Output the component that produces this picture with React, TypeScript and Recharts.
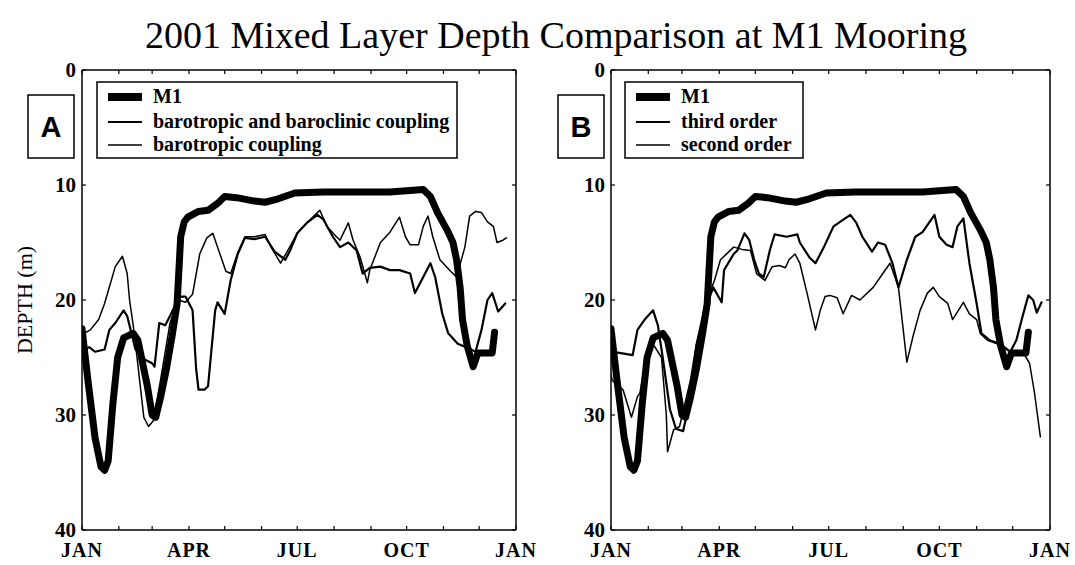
import React from 'react';
import { LineChart, Line, XAxis, YAxis } from 'recharts';

// ---------- axis ticks ----------
const monthTicks = [0, 31, 59, 90, 120, 151, 181, 212, 243, 273, 304, 334, 365];
const monthLabels: Record<number, string> = { 0: 'JAN', 90: 'APR', 181: 'JUL', 273: 'OCT', 365: 'JAN' };
const depthTicks = [0, 10, 20, 30, 40];

// ---------- series names ----------
const title = '2001 Mixed Layer Depth Comparison at M1 Mooring';
const namesA = ['M1', 'barotropic and baroclinic coupling', 'barotropic coupling'];
const namesB = ['M1', 'third order', 'second order'];
const panelLetters = ['A', 'B'];

// ---------- M1 observed (day of year, depth m) ----------
const m1Day = [0, 5, 11, 16, 19, 22, 26, 30, 35, 43, 47, 51, 55, 59, 62, 66, 71, 76, 80, 83, 86, 89, 98, 106, 114, 120, 130, 145, 154, 165, 179, 203, 230, 259, 287, 293, 299, 307, 312, 315, 318, 320, 324, 329, 333, 338, 345, 347];
const m1Depth = [22.5, 27, 32, 34.5, 34.8, 34, 29, 25, 23.3, 22.9, 23.5, 25.5, 27.5, 30, 30.2, 28.5, 26, 23, 20.3, 14.5, 13.2, 12.8, 12.3, 12.2, 11.6, 11, 11.1, 11.4, 11.5, 11.2, 10.7, 10.6, 10.6, 10.6, 10.4, 11, 12.4, 13.9, 15, 16.5, 18.9, 21.7, 24, 25.8, 24.6, 24.6, 24.6, 22.8];

// ---------- Panel A: barotropic and baroclinic coupling ----------
const bbDay = [0, 6, 11, 19, 23, 28, 35, 38, 45, 53, 59, 61, 65, 70, 74, 82, 87, 93, 96, 98, 103, 106, 112, 114, 120, 125, 131, 137, 145, 154, 162, 171, 175, 181, 189, 198, 203, 211, 217, 224, 231, 236, 242, 251, 259, 267, 276, 280, 287, 293, 297, 303, 308, 316, 325, 331, 336, 341, 345, 350, 356];
const bbDepth = [24.5, 24.1, 24.5, 24.3, 22.6, 22, 20.9, 21.4, 24.3, 25.2, 25.5, 25.8, 22, 22.2, 21.4, 19.7, 19.7, 20.9, 26, 27.8, 27.8, 27.5, 20.9, 20.2, 21.2, 18.3, 16, 14.6, 14.7, 14.5, 15.8, 16.5, 15.7, 14.2, 13.3, 12.6, 13, 14.5, 15.4, 15, 15.7, 17.7, 17.2, 17.1, 17.4, 17.4, 17.7, 19.4, 18, 16.8, 18, 21.2, 22.9, 23.8, 24.2, 24.5, 22.6, 20, 19.4, 21, 20.3];

// ---------- Panel A: barotropic coupling ----------
const btDay = [0, 7, 14, 19, 28, 34, 38, 40, 44, 52, 56, 60, 66, 74, 81, 87, 93, 99, 105, 110, 116, 121, 125, 131, 137, 145, 154, 159, 167, 173, 181, 189, 198, 200, 206, 214, 217, 224, 228, 234, 240, 242, 251, 259, 267, 272, 276, 283, 287, 291, 295, 301, 310, 315, 322, 326, 331, 336, 341, 346, 349, 354, 357];
const btDepth = [23, 22.6, 21.7, 20.3, 17.1, 16.2, 17.7, 20, 22.9, 30.2, 31, 30.5, 27, 22, 20, 20.2, 19.5, 16, 14.6, 14.2, 16, 17.5, 17.7, 15.9, 14.5, 14.5, 14.3, 15.4, 16.8, 15.7, 14.2, 13.3, 12.4, 12.2, 13.6, 14.5, 14.8, 13.3, 14.8, 16.3, 18.5, 17.4, 15, 14.1, 12.8, 14.5, 15.2, 15.2, 13.6, 12.7, 14.5, 16.5, 17.5, 18, 15.4, 12.7, 12.3, 12.4, 13.2, 13.6, 15, 14.8, 14.6];

// ---------- Panel B: third order ----------
const thirdDay = [0, 7, 18, 22, 28, 35, 39, 43, 49, 54, 60, 66, 71, 80, 85, 92, 94, 102, 105, 111, 115, 119, 123, 127, 132, 136, 146, 155, 157, 165, 170, 177, 185, 199, 204, 209, 217, 222, 228, 234, 239, 246, 253, 259, 269, 273, 279, 284, 288, 293, 298, 304, 308, 315, 323, 332, 337, 342, 347, 351, 354, 358];
const thirdDepth = [24.5, 24.6, 24.8, 22.6, 21.7, 20.9, 22.2, 25, 29.5, 31.2, 31.4, 28.5, 24, 20.3, 18.9, 20.2, 17.4, 16, 15.7, 14.2, 14.8, 16.5, 17.7, 18, 15.7, 14.3, 14.5, 14.3, 15, 16.3, 16.8, 15.4, 13.6, 12.6, 13.3, 14.5, 15.8, 15, 15.2, 16.8, 18.9, 16.5, 14.5, 14.1, 12.6, 14.5, 15.2, 15.4, 13.6, 12.9, 16.8, 20.3, 22.9, 23.5, 23.8, 24.5, 23.5, 21.5, 19.6, 20, 21.1, 20.2];

// ---------- Panel B: second order ----------
const secondDay = [0, 1, 10, 17, 22, 24, 30, 36, 42, 46, 47, 52, 57, 66, 71, 78, 86, 91, 102, 109, 116, 121, 128, 134, 140, 145, 148, 153, 157, 163, 170, 174, 178, 182, 188, 193, 200, 207, 218, 226, 232, 239, 246, 251, 257, 263, 268, 273, 280, 284, 293, 298, 304, 307, 313, 321, 332, 344, 348, 352, 357];
const secondDepth = [26.5, 27, 27.8, 30.2, 28.4, 28.1, 24.5, 24, 25, 30, 33.2, 31.3, 31, 27, 23.8, 20.5, 18.3, 16.5, 15.4, 15.6, 15.7, 17.7, 18.3, 17.1, 17, 17.2, 16.5, 16, 16.8, 19.4, 22.6, 20.9, 19.7, 19.6, 19.8, 21.2, 19.6, 20, 18.9, 17.7, 16.8, 18.9, 25.4, 23.2, 20.9, 19.4, 18.9, 19.7, 20.3, 21.7, 20.2, 21.2, 21.7, 22.9, 23.5, 23.8, 24.5, 24.8, 25.5, 28, 31.9];

const toPts = (days: number[], vals: number[]) => days.map((day, i) => ({ day, depth: vals[i] }));

const SERIF = '"Liberation Serif", "Times New Roman", serif';
const SANS = '"Liberation Sans", Arial, sans-serif';
const lineWidths = [7, 2.2, 1.5];

type PanelProps = {
  left: number;
  width: number;
  marginLeft: number;
  marginRight: number;
  series: { days: number[]; vals: number[] }[];
};

function Panel({ left, width, marginLeft, marginRight, series }: PanelProps) {
  const axisLine = { stroke: '#000', strokeWidth: 1.5 };
  const tickLine = { stroke: '#000', strokeWidth: 1.2 };
  const tickStyle = { fill: '#000', fontSize: 21, fontFamily: SERIF, fontWeight: 'bold' as const };
  return (
    <div style={{ position: 'absolute', left, top: 0 }}>
      <LineChart width={width} height={565} margin={{ top: 60, right: marginRight, bottom: 5, left: marginLeft }}>
        <XAxis
          xAxisId="b"
          dataKey="day"
          type="number"
          domain={[0, 365]}
          ticks={monthTicks}
          interval={0}
          tickFormatter={(v: number) => monthLabels[v] || ''}
          tickSize={-4}
          tickMargin={17}
          height={30}
          axisLine={axisLine}
          tickLine={tickLine}
          tick={{ ...tickStyle, fontSize: 20, letterSpacing: 1 }}
          allowDataOverflow
        />
        <XAxis
          xAxisId="t"
          orientation="top"
          dataKey="day"
          type="number"
          domain={[0, 365]}
          ticks={monthTicks}
          interval={0}
          tickFormatter={() => ''}
          tickSize={-4}
          height={10}
          axisLine={axisLine}
          tickLine={tickLine}
          allowDataOverflow
        />
        <YAxis
          yAxisId="l"
          type="number"
          domain={[0, 40]}
          reversed
          ticks={depthTicks}
          interval={0}
          tickSize={-4}
          tickMargin={10}
          width={40}
          axisLine={axisLine}
          tickLine={tickLine}
          tick={tickStyle}
          allowDataOverflow
        />
        <YAxis
          yAxisId="r"
          orientation="right"
          type="number"
          domain={[0, 40]}
          reversed
          ticks={depthTicks}
          interval={0}
          tickFormatter={() => ''}
          tickSize={-4}
          width={10}
          axisLine={axisLine}
          tickLine={tickLine}
          allowDataOverflow
        />
        {series.map((s, i) => (
          <Line
            key={i}
            xAxisId="b"
            yAxisId="l"
            data={toPts(s.days, s.vals)}
            dataKey="depth"
            type="linear"
            stroke="#000"
            strokeWidth={lineWidths[i]}
            strokeLinejoin="round"
            strokeLinecap="round"
            dot={false}
            activeDot={false}
            isAnimationActive={false}
          />
        ))}
      </LineChart>
    </div>
  );
}

function LegendBox({ x, y, w, names }: { x: number; y: number; w: number; names: string[] }) {
  const rows = [15, 40, 63];
  return (
    <g>
      <rect x={x} y={y} width={w} height={76} fill="#fff" stroke="#000" strokeWidth={1.5} />
      {names.map((n, i) => (
        <g key={i}>
          <line x1={x + 11} x2={x + 45} y1={y + rows[i]} y2={y + rows[i]} stroke="#000" strokeWidth={i === 0 ? 8 : lineWidths[i]} />
          <text x={x + 56} y={y + rows[i] + 6} fontFamily={SERIF} fontSize={20} fontWeight="bold" fill="#000">
            {n}
          </text>
        </g>
      ))}
    </g>
  );
}

export default function App() {
  const seriesA = [
    { days: m1Day, vals: m1Depth },
    { days: bbDay, vals: bbDepth },
    { days: btDay, vals: btDepth },
  ];
  const seriesB = [
    { days: m1Day, vals: m1Depth },
    { days: thirdDay, vals: thirdDepth },
    { days: secondDay, vals: secondDepth },
  ];
  return (
    <div style={{ position: 'absolute', left: 0, top: 0, width: 1075, height: 565, background: '#fff', overflow: 'hidden' }}>
      <Panel left={0} width={540} marginLeft={42} marginRight={14} series={seriesA} />
      <Panel left={540} width={535} marginLeft={31} marginRight={15} series={seriesB} />
      <svg width={1075} height={565} style={{ position: 'absolute', left: 0, top: 0, pointerEvents: 'none' }}>
        <text x={556} y={48} textAnchor="middle" fontFamily={SERIF} fontSize={38} fill="#000">
          {title}
        </text>
        <text
          x={0}
          y={0}
          transform="translate(32,300) rotate(-90)"
          textAnchor="middle"
          fontFamily={SERIF}
          fontSize={22}
          fill="#000"
        >
          DEPTH (m)
        </text>
        <rect x={28} y={95} width={46} height={63} fill="#fff" stroke="#000" strokeWidth={1.5} />
        <text x={51} y={137} textAnchor="middle" fontFamily={SANS} fontWeight="bold" fontSize={29} fill="#000">
          {panelLetters[0]}
        </text>
        <rect x={558} y={95} width={46} height={63} fill="#fff" stroke="#000" strokeWidth={1.5} />
        <text x={581} y={137} textAnchor="middle" fontFamily={SANS} fontWeight="bold" fontSize={29} fill="#000">
          {panelLetters[1]}
        </text>
        <LegendBox x={97} y={82} w={360} names={namesA} />
        <LegendBox x={625} y={82} w={178} names={namesB} />
      </svg>
    </div>
  );
}
